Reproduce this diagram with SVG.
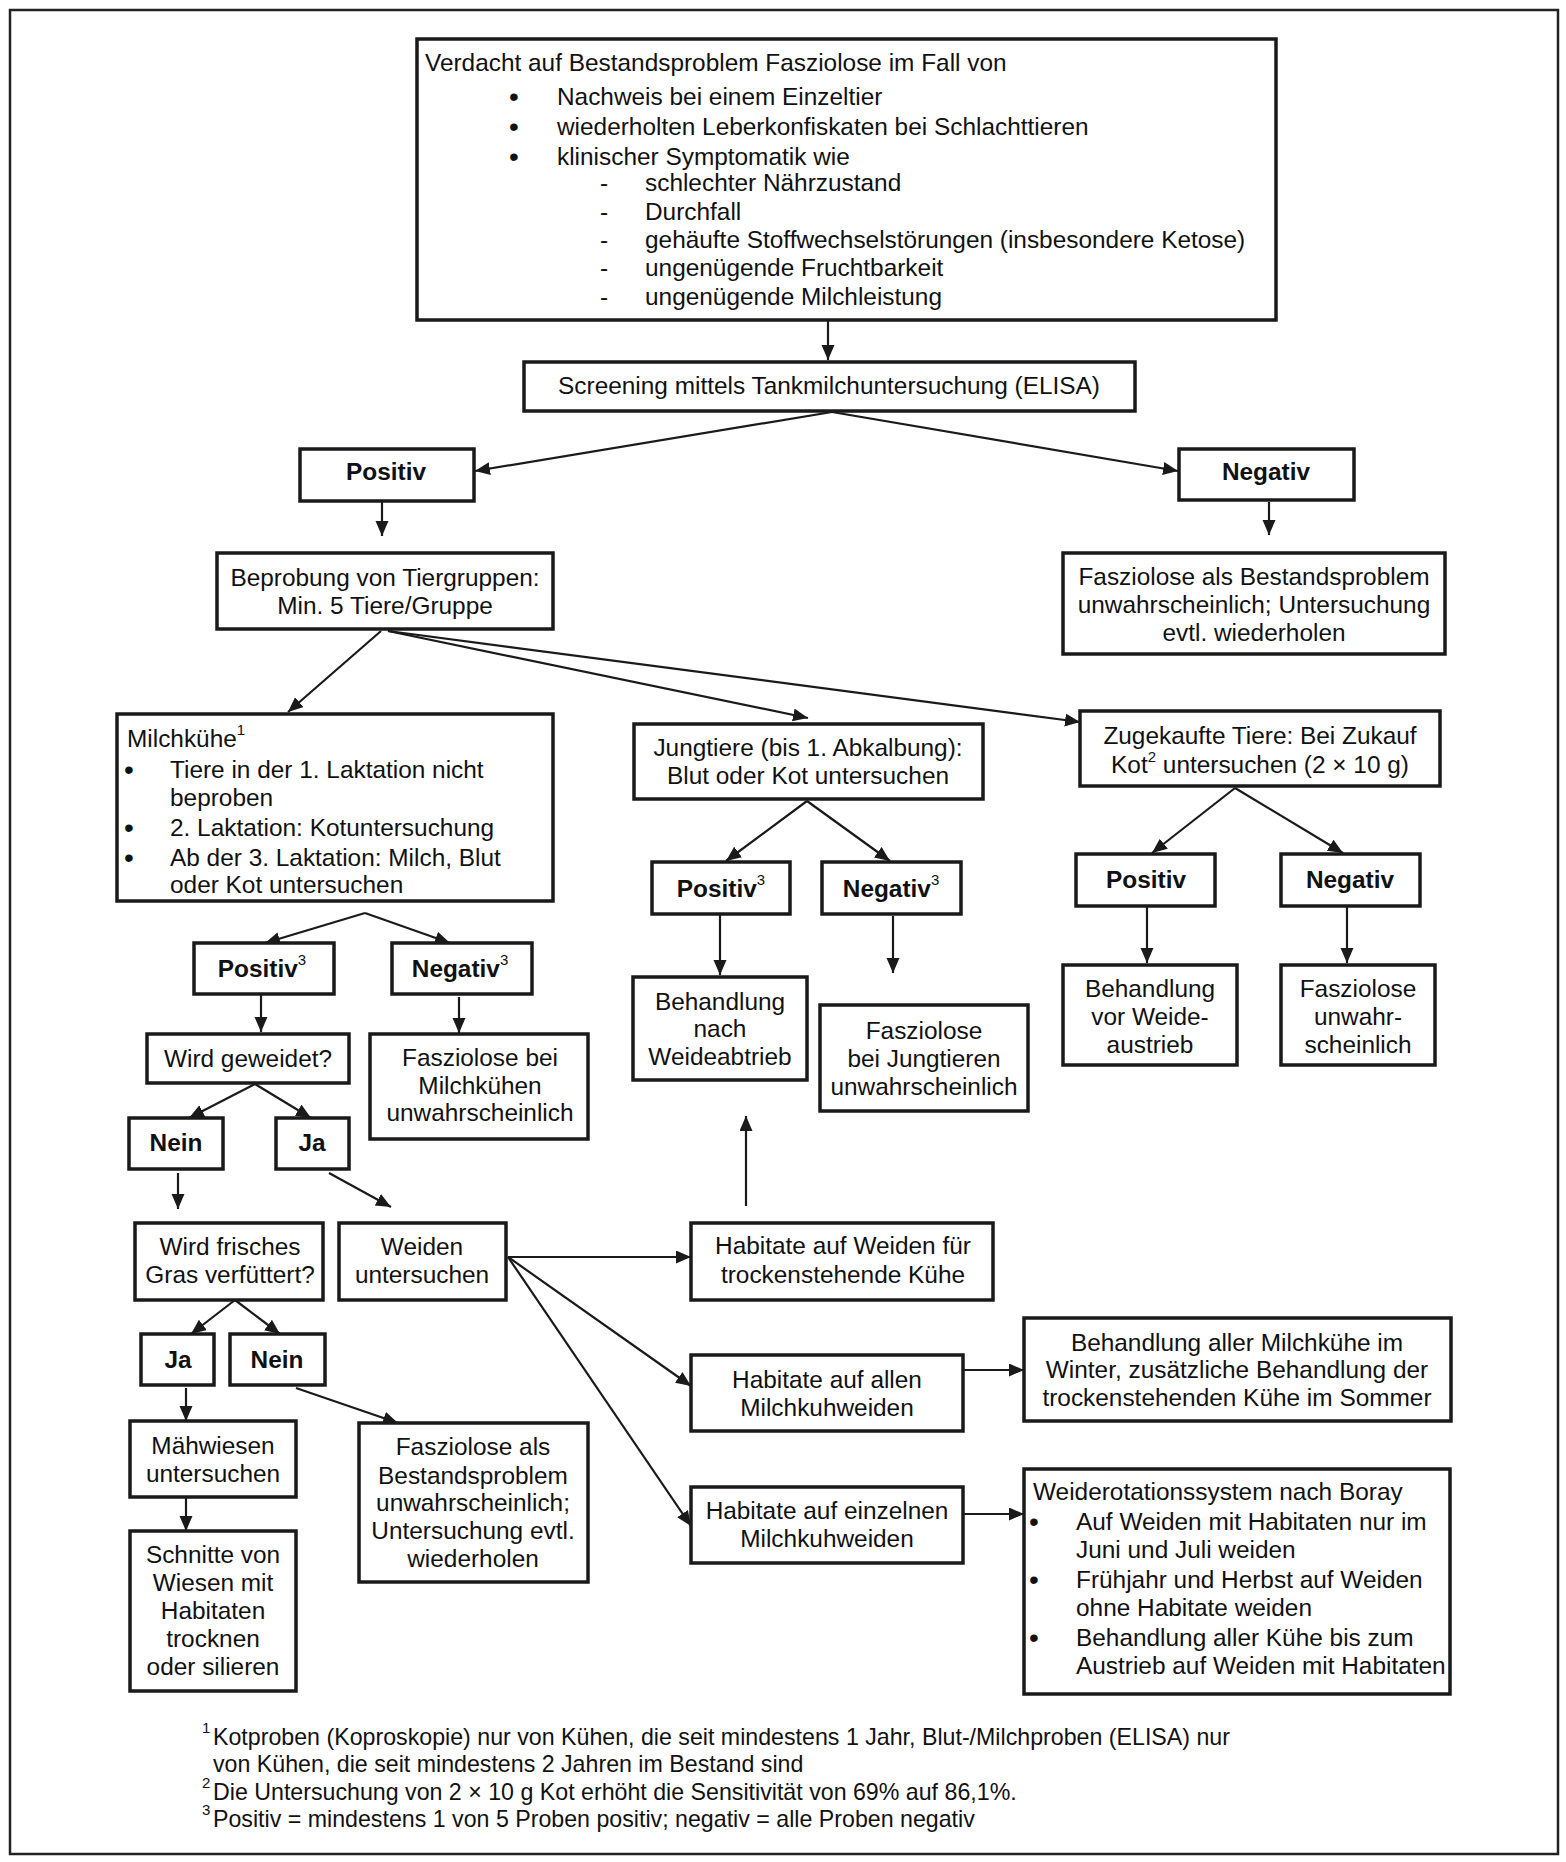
<svg xmlns="http://www.w3.org/2000/svg" width="1566" height="1862" viewBox="0 0 1566 1862">
<style>
text{font-family:"Liberation Sans",Arial,sans-serif;font-size:24.4px;fill:#111}
.c{text-anchor:middle}
.b{font-weight:bold}
.sup{font-size:15px}
.bu{font-size:28px}
.box{fill:#fff;stroke:#1a1a1a;stroke-width:3.5}
.ln{fill:none;stroke:#1a1a1a;stroke-width:2.2}
.fn{font-size:23.2px}
</style>
<defs>
<marker id="ah" markerUnits="userSpaceOnUse" markerWidth="16" markerHeight="14" refX="15" refY="6.5" orient="auto">
<path d="M0,0 L15,6.5 L0,13 z" fill="#1a1a1a"/>
</marker>
</defs>
<rect x="0" y="0" width="1566" height="1862" fill="#fff"/>
<rect x="10" y="10" width="1548" height="1844" fill="none" stroke="#222" stroke-width="2.5"/>

<g id="connectors">
<line class="ln" x1="828" y1="320" x2="828" y2="360" marker-end="url(#ah)"/>
<line class="ln" x1="832" y1="412" x2="475" y2="471" marker-end="url(#ah)"/>
<line class="ln" x1="832" y1="412" x2="1178" y2="471" marker-end="url(#ah)"/>
<line class="ln" x1="382" y1="502" x2="382" y2="536" marker-end="url(#ah)"/>
<line class="ln" x1="1269" y1="502" x2="1269" y2="535" marker-end="url(#ah)"/>
<line class="ln" x1="381" y1="631" x2="288" y2="712" marker-end="url(#ah)"/>
<line class="ln" x1="388" y1="631" x2="808" y2="718" marker-end="url(#ah)"/>
<line class="ln" x1="388" y1="631" x2="1080" y2="722" marker-end="url(#ah)"/>
<line class="ln" x1="807" y1="801" x2="726" y2="861" marker-end="url(#ah)"/>
<line class="ln" x1="807" y1="801" x2="890" y2="861" marker-end="url(#ah)"/>
<line class="ln" x1="1235" y1="788" x2="1152" y2="853" marker-end="url(#ah)"/>
<line class="ln" x1="1235" y1="788" x2="1343" y2="853" marker-end="url(#ah)"/>
<line class="ln" x1="720" y1="914" x2="720" y2="975" marker-end="url(#ah)"/>
<line class="ln" x1="893" y1="916" x2="893" y2="973" marker-end="url(#ah)"/>
<line class="ln" x1="1147" y1="906" x2="1147" y2="963" marker-end="url(#ah)"/>
<line class="ln" x1="1347" y1="906" x2="1347" y2="963" marker-end="url(#ah)"/>
<line class="ln" x1="365" y1="913" x2="265" y2="943" marker-end="url(#ah)"/>
<line class="ln" x1="365" y1="913" x2="450" y2="943" marker-end="url(#ah)"/>
<line class="ln" x1="261" y1="995" x2="261" y2="1032" marker-end="url(#ah)"/>
<line class="ln" x1="459" y1="997" x2="459" y2="1033" marker-end="url(#ah)"/>
<line class="ln" x1="255" y1="1084" x2="189" y2="1118" marker-end="url(#ah)"/>
<line class="ln" x1="255" y1="1084" x2="311" y2="1118" marker-end="url(#ah)"/>
<line class="ln" x1="178" y1="1173" x2="178" y2="1209" marker-end="url(#ah)"/>
<line class="ln" x1="329" y1="1173" x2="391" y2="1207" marker-end="url(#ah)"/>
<line class="ln" x1="235" y1="1300" x2="191" y2="1334" marker-end="url(#ah)"/>
<line class="ln" x1="235" y1="1300" x2="280" y2="1334" marker-end="url(#ah)"/>
<line class="ln" x1="186" y1="1388" x2="186" y2="1421" marker-end="url(#ah)"/>
<line class="ln" x1="186" y1="1497" x2="186" y2="1531" marker-end="url(#ah)"/>
<line class="ln" x1="296" y1="1388" x2="398" y2="1423" marker-end="url(#ah)"/>
<line class="ln" x1="508" y1="1257" x2="691" y2="1257" marker-end="url(#ah)"/>
<line class="ln" x1="508" y1="1257" x2="691" y2="1386" marker-end="url(#ah)"/>
<line class="ln" x1="508" y1="1257" x2="691" y2="1526" marker-end="url(#ah)"/>
<line class="ln" x1="746" y1="1206" x2="746" y2="1116" marker-end="url(#ah)"/>
<line class="ln" x1="964" y1="1370" x2="1024" y2="1370" marker-end="url(#ah)"/>
<line class="ln" x1="964" y1="1514" x2="1024" y2="1514" marker-end="url(#ah)"/>
</g>

<g id="n-verdacht">
<rect class="box" x="417" y="39" width="859" height="281" stroke-width="4"/>
<text x="425" y="71">Verdacht auf Bestandsproblem Fasziolose im Fall von</text>
<text class="bu" x="509" y="106">•</text><text x="557" y="105">Nachweis bei einem Einzeltier</text>
<text class="bu" x="509" y="136">•</text><text x="557" y="135">wiederholten Leberkonfiskaten bei Schlachttieren</text>
<text class="bu" x="509" y="166">•</text><text x="557" y="165">klinischer Symptomatik wie</text>
<text x="600" y="191">-</text><text x="645" y="191">schlechter Nährzustand</text>
<text x="600" y="220">-</text><text x="645" y="220">Durchfall</text>
<text x="600" y="248">-</text><text x="645" y="248">gehäufte Stoffwechselstörungen (insbesondere Ketose)</text>
<text x="600" y="276">-</text><text x="645" y="276">ungenügende Fruchtbarkeit</text>
<text x="600" y="305">-</text><text x="645" y="305">ungenügende Milchleistung</text>
</g>

<g id="n-screening">
<rect class="box" x="524" y="362" width="611" height="49"/>
<text class="c" x="829" y="394">Screening mittels Tankmilchuntersuchung (ELISA)</text>
</g>

<g id="n-positiv">
<rect class="box" x="300" y="449" width="174" height="52"/>
<text class="c b" x="386" y="480">Positiv</text>
</g>

<g id="n-negativ">
<rect class="box" x="1179" y="449" width="175" height="51"/>
<text class="c b" x="1266" y="480">Negativ</text>
</g>

<g id="n-neg-result">
<rect class="box" x="1063" y="553" width="382" height="101"/>
<text class="c" x="1254" y="585">Fasziolose als Bestandsproblem</text>
<text class="c" x="1254" y="613">unwahrscheinlich; Untersuchung</text>
<text class="c" x="1254" y="641">evtl. wiederholen</text>
</g>

<g id="n-beprobung">
<rect class="box" x="217" y="553" width="336" height="76"/>
<text class="c" x="385" y="586">Beprobung von Tiergruppen:</text>
<text class="c" x="385" y="614">Min. 5 Tiere/Gruppe</text>
</g>

<g id="n-milchkuehe">
<rect class="box" x="117" y="714" width="436" height="187"/>
<text x="127" y="747">Milchkühe<tspan class="sup" dy="-12">1</tspan></text>
<text class="bu" x="124" y="779">•</text><text x="170" y="778">Tiere in der 1. Laktation nicht</text>
<text x="170" y="806">beproben</text>
<text class="bu" x="124" y="837">•</text><text x="170" y="836">2. Laktation: Kotuntersuchung</text>
<text class="bu" x="124" y="867">•</text><text x="170" y="866">Ab der 3. Laktation: Milch, Blut</text>
<text x="170" y="893">oder Kot untersuchen</text>
</g>

<g id="n-jungtiere">
<rect class="box" x="634" y="724" width="349" height="75"/>
<text class="c" x="808" y="756">Jungtiere (bis 1. Abkalbung):</text>
<text class="c" x="808" y="784">Blut oder Kot untersuchen</text>
</g>

<g id="n-zugekauft">
<rect class="box" x="1080" y="711" width="360" height="75"/>
<text class="c" x="1260" y="744">Zugekaufte Tiere: Bei Zukauf</text>
<text class="c" x="1260" y="773">Kot<tspan class="sup" dy="-11">2</tspan><tspan dy="11"> untersuchen (2 × 10 g)</tspan></text>
</g>

<g id="n-jt-positiv">
<rect class="box" x="652" y="862" width="138" height="52"/>
<text class="c b" x="721" y="897">Positiv<tspan class="sup" font-weight="normal" dy="-12">3</tspan></text>
</g>

<g id="n-jt-negativ">
<rect class="box" x="822" y="862" width="139" height="52"/>
<text class="c b" x="891" y="897">Negativ<tspan class="sup" font-weight="normal" dy="-12">3</tspan></text>
</g>

<g id="n-zk-positiv">
<rect class="box" x="1076" y="854" width="139" height="52"/>
<text class="c b" x="1146" y="888">Positiv</text>
</g>

<g id="n-zk-negativ">
<rect class="box" x="1281" y="854" width="139" height="52"/>
<text class="c b" x="1350" y="888">Negativ</text>
</g>

<g id="n-jt-behandlung">
<rect class="box" x="633" y="977" width="174" height="103"/>
<text class="c" x="720" y="1010">Behandlung</text>
<text class="c" x="720" y="1037">nach</text>
<text class="c" x="720" y="1065">Weideabtrieb</text>
</g>

<g id="n-jt-fasziolose">
<rect class="box" x="820" y="1005" width="208" height="106"/>
<text class="c" x="924" y="1039">Fasziolose</text>
<text class="c" x="924" y="1067">bei Jungtieren</text>
<text class="c" x="924" y="1095">unwahrscheinlich</text>
</g>

<g id="n-zk-behandlung">
<rect class="box" x="1063" y="965" width="174" height="100"/>
<text class="c" x="1150" y="997">Behandlung</text>
<text class="c" x="1150" y="1025">vor Weide-</text>
<text class="c" x="1150" y="1053">austrieb</text>
</g>

<g id="n-zk-fasziolose">
<rect class="box" x="1281" y="965" width="154" height="100"/>
<text class="c" x="1358" y="997">Fasziolose</text>
<text class="c" x="1358" y="1025">unwahr-</text>
<text class="c" x="1358" y="1053">scheinlich</text>
</g>

<g id="n-mk-positiv">
<rect class="box" x="194" y="943" width="140" height="51"/>
<text class="c b" x="262" y="977">Positiv<tspan class="sup" font-weight="normal" dy="-12">3</tspan></text>
</g>

<g id="n-mk-negativ">
<rect class="box" x="392" y="943" width="140" height="51"/>
<text class="c b" x="460" y="977">Negativ<tspan class="sup" font-weight="normal" dy="-12">3</tspan></text>
</g>

<g id="n-geweidet">
<rect class="box" x="147" y="1034" width="202" height="49"/>
<text class="c" x="248" y="1067">Wird geweidet?</text>
</g>

<g id="n-mk-fasziolose">
<rect class="box" x="370" y="1034" width="218" height="105"/>
<text class="c" x="480" y="1066">Fasziolose bei</text>
<text class="c" x="480" y="1094">Milchkühen</text>
<text class="c" x="480" y="1121">unwahrscheinlich</text>
</g>

<g id="n-nein1">
<rect class="box" x="129" y="1118" width="94" height="51"/>
<text class="c b" x="176" y="1151">Nein</text>
</g>

<g id="n-ja1">
<rect class="box" x="276" y="1118" width="73" height="51"/>
<text class="c b" x="312" y="1151">Ja</text>
</g>

<g id="n-frisches">
<rect class="box" x="135" y="1223" width="188" height="77"/>
<text class="c" x="230" y="1255">Wird frisches</text>
<text class="c" x="230" y="1283">Gras verfüttert?</text>
</g>

<g id="n-weiden">
<rect class="box" x="339" y="1223" width="167" height="77"/>
<text class="c" x="422" y="1255">Weiden</text>
<text class="c" x="422" y="1283">untersuchen</text>
</g>

<g id="n-hab-trocken">
<rect class="box" x="691" y="1223" width="302" height="77"/>
<text class="c" x="843" y="1254">Habitate auf Weiden für</text>
<text class="c" x="843" y="1283">trockenstehende Kühe</text>
</g>

<g id="n-hab-allen">
<rect class="box" x="691" y="1355" width="272" height="76"/>
<text class="c" x="827" y="1388">Habitate auf allen</text>
<text class="c" x="827" y="1416">Milchkuhweiden</text>
</g>

<g id="n-hab-einzeln">
<rect class="box" x="691" y="1487" width="272" height="76"/>
<text class="c" x="827" y="1519">Habitate auf einzelnen</text>
<text class="c" x="827" y="1547">Milchkuhweiden</text>
</g>

<g id="n-beh-aller">
<rect class="box" x="1024" y="1318" width="427" height="103"/>
<text class="c" x="1237" y="1351">Behandlung aller Milchkühe im</text>
<text class="c" x="1237" y="1378">Winter, zusätzliche Behandlung der</text>
<text class="c" x="1237" y="1406">trockenstehenden Kühe im Sommer</text>
</g>

<g id="n-boray">
<rect class="box" x="1024" y="1469" width="426" height="225"/>
<text x="1033" y="1500">Weiderotationssystem nach Boray</text>
<text class="bu" x="1029" y="1531">•</text><text x="1076" y="1530">Auf Weiden mit Habitaten nur im</text>
<text x="1076" y="1558">Juni und Juli weiden</text>
<text class="bu" x="1029" y="1589">•</text><text x="1076" y="1588">Frühjahr und Herbst auf Weiden</text>
<text x="1076" y="1616">ohne Habitate weiden</text>
<text class="bu" x="1029" y="1647">•</text><text x="1076" y="1646">Behandlung aller Kühe bis zum</text>
<text x="1076" y="1674">Austrieb auf Weiden mit Habitaten</text>
</g>

<g id="n-ja2">
<rect class="box" x="141" y="1334" width="73" height="51"/>
<text class="c b" x="178" y="1368">Ja</text>
</g>

<g id="n-nein2">
<rect class="box" x="230" y="1334" width="95" height="51"/>
<text class="c b" x="277" y="1368">Nein</text>
</g>

<g id="n-maehwiesen">
<rect class="box" x="130" y="1421" width="166" height="76"/>
<text class="c" x="213" y="1454">Mähwiesen</text>
<text class="c" x="213" y="1482">untersuchen</text>
</g>

<g id="n-schnitte">
<rect class="box" x="130" y="1531" width="166" height="160"/>
<text class="c" x="213" y="1563">Schnitte von</text>
<text class="c" x="213" y="1591">Wiesen mit</text>
<text class="c" x="213" y="1619">Habitaten</text>
<text class="c" x="213" y="1647">trocknen</text>
<text class="c" x="213" y="1675">oder silieren</text>
</g>

<g id="n-fasz-bestand">
<rect class="box" x="359" y="1423" width="229" height="159"/>
<text class="c" x="473" y="1455">Fasziolose als</text>
<text class="c" x="473" y="1484">Bestandsproblem</text>
<text class="c" x="473" y="1511">unwahrscheinlich;</text>
<text class="c" x="473" y="1539">Untersuchung evtl.</text>
<text class="c" x="473" y="1567">wiederholen</text>
</g>

<g id="footnotes">
<text class="sup" x="202" y="1733">1</text>
<text class="fn" x="213" y="1745">Kotproben (Koproskopie) nur von Kühen, die seit mindestens 1 Jahr, Blut-/Milchproben (ELISA) nur</text>
<text class="fn" x="213" y="1772">von Kühen, die seit mindestens 2 Jahren im Bestand sind</text>
<text class="sup" x="202" y="1788">2</text>
<text class="fn" x="213" y="1800">Die Untersuchung von 2 × 10 g Kot erhöht die Sensitivität von 69% auf 86,1%.</text>
<text class="sup" x="202" y="1815">3</text>
<text class="fn" x="213" y="1827">Positiv = mindestens 1 von 5 Proben positiv; negativ = alle Proben negativ</text>
</g>
</svg>
